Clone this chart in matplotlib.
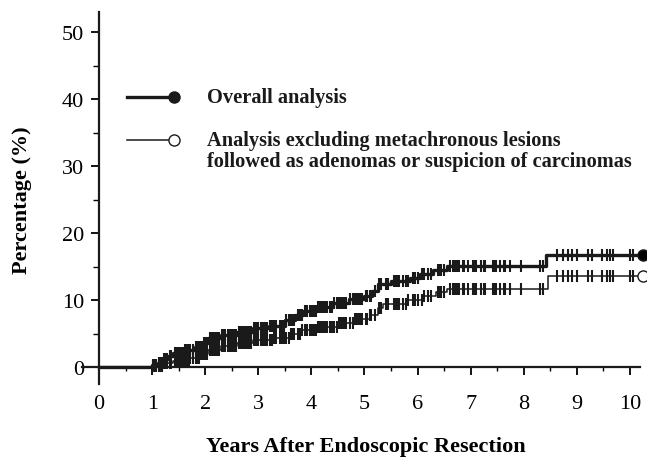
import numpy as np
import matplotlib.pyplot as plt
from matplotlib.ticker import MultipleLocator

plt.rcParams['font.family'] = ['Liberation Serif', 'DejaVu Serif']

# cumulative incidence, step points (years, %)
overall_t = [0, 1.0, 1.1, 1.2, 1.3, 1.4, 1.6, 1.8, 1.95, 2.05, 2.3, 2.6, 2.9, 3.2, 3.5, 3.7,
             3.85, 4.1, 4.4, 4.7, 5.0, 5.15, 5.25, 5.5, 5.85, 6.05, 6.3, 6.55, 8.42]
overall_y = [0, 0.3, 0.7, 1.2, 1.7, 2.2, 2.6, 3.0, 3.6, 4.3, 4.8, 5.3, 5.8, 6.2, 7.0, 7.8,
             8.4, 9.0, 9.6, 10.2, 10.6, 11.3, 12.4, 12.9, 13.3, 13.9, 14.5, 15.1, 16.8]

excl_t = [0, 1.0, 1.2, 1.4, 1.7, 1.9, 2.05, 2.3, 2.6, 2.9, 3.3, 3.6, 3.8, 4.1, 4.5, 4.8,
          5.1, 5.25, 5.35, 5.8, 6.1, 6.35, 6.55, 8.45]
excl_y = [0, 0.2, 0.6, 1.0, 1.4, 2.0, 2.6, 3.2, 3.6, 4.0, 4.4, 5.0, 5.6, 6.0, 6.6, 7.2,
          7.8, 8.8, 9.5, 10.0, 10.6, 11.2, 11.7, 13.6]

t_end = 10.24

# censored observations (years)
censor = [1.02, 1.05, 1.08, 1.12, 1.15, 1.18, 1.22, 1.25, 1.28, 1.33, 1.36, 1.42, 1.45, 1.48,
          1.52, 1.55, 1.58, 1.62, 1.66, 1.69, 1.72, 1.76, 1.82, 1.85, 1.88, 1.9, 1.93, 1.98,
          2.0, 2.03, 2.08, 2.1, 2.13, 2.16, 2.19, 2.22, 2.26, 2.32, 2.35, 2.38, 2.42, 2.46,
          2.5, 2.55, 2.58, 2.63, 2.68, 2.72, 2.75, 2.78, 2.82, 2.86, 2.92, 2.95, 3.0, 3.05,
          3.08, 3.12, 3.16, 3.22, 3.25, 3.3, 3.34, 3.4, 3.45, 3.48, 3.53, 3.58, 3.62, 3.65,
          3.68, 3.74, 3.78, 3.82, 3.88, 3.92, 3.98, 4.02, 4.05, 4.08, 4.12, 4.15, 4.18, 4.22,
          4.26, 4.3, 4.35, 4.38, 4.42, 4.48, 4.52, 4.55, 4.6, 4.62, 4.66, 4.72, 4.78, 4.82,
          4.85, 4.9, 4.92, 4.96, 5.02, 5.05, 5.1, 5.13, 5.2, 5.28, 5.32, 5.4, 5.45, 5.55,
          5.58, 5.62, 5.65, 5.72, 5.78, 5.82, 5.92, 5.96, 6.0, 6.08, 6.12, 6.2, 6.25, 6.38,
          6.42, 6.45, 6.5, 6.62, 6.66, 6.68, 6.72, 6.75, 6.78, 6.85, 6.88, 6.95, 7.05, 7.08,
          7.1, 7.2, 7.25, 7.28, 7.42, 7.45, 7.48, 7.55, 7.62, 7.65, 7.75, 7.95, 8.3, 8.36,
          8.62, 8.74, 8.83, 8.91, 9.0, 9.21, 9.28, 9.47, 9.57, 9.62, 9.68, 10.0, 10.06]


def step_value(ts, ys, x):
    idx = np.searchsorted(ts, x, side='right') - 1
    return np.array(ys)[idx]


fig = plt.figure(figsize=(6.47, 4.60), dpi=100)
ax = fig.add_axes([0.127, 0.163, 0.862, 0.809])

for ts, ys, lw, mfc in [(overall_t, overall_y, 2.4, 'black'), (excl_t, excl_y, 1.1, 'white')]:
    tt = np.append(ts, t_end)
    yy = np.append(ys, ys[-1])
    ax.step(tt, yy, where='post', color='#1a1a1a', lw=lw, clip_on=False, zorder=3)
    ax.plot(censor, step_value(ts, ys, censor), ls='none', marker='|', ms=8,
            mew=1.5, color='#1a1a1a', zorder=3)
    ax.plot([t_end], [ys[-1]], ls='none', marker='o', ms=8, mfc=mfc,
            mec='#1a1a1a', mew=1.0, clip_on=False, zorder=4)

ax.set_xlim(-0.32, 10.19)
ax.set_ylim(-2.5, 53)
ax.spines['left'].set_position(('data', 0))
ax.spines['bottom'].set_position(('data', 0))
ax.spines['right'].set_visible(False)
ax.spines['top'].set_visible(False)
for s in ['left', 'bottom']:
    ax.spines[s].set_linewidth(1.6)
    ax.spines[s].set_color('#1a1a1a')

ax.set_xticks(range(0, 11))
ax.set_yticks(range(0, 51, 10))
ax.xaxis.set_minor_locator(MultipleLocator(0.5))
ax.yaxis.set_minor_locator(MultipleLocator(5))
ax.tick_params(axis='x', which='major', length=6, width=1.3, pad=13, labelsize=16)
ax.tick_params(axis='x', which='minor', length=3, width=1.0)
ax.tick_params(axis='y', which='major', length=6, width=1.3, pad=5, labelsize=16)
ax.tick_params(axis='y', which='minor', length=4, width=1.0)

fig.text(0.565, 0.028, 'Years After Endoscopic Resection', ha='center', va='center',
         fontsize=16, fontweight='bold')
fig.text(0.034, 0.565, 'Percentage (%)', ha='center', va='center', rotation=90,
         fontsize=16, fontweight='bold')

# legend
ax.plot([0.081, 0.165], [0.77, 0.77], transform=ax.transAxes, color='#1a1a1a', lw=2.4)
ax.plot([0.165], [0.77], transform=ax.transAxes, marker='o', ms=8, color='#1a1a1a')
ax.plot([0.081, 0.165], [0.655, 0.655], transform=ax.transAxes, color='#1a1a1a', lw=1.1)
ax.plot([0.165], [0.655], transform=ax.transAxes, marker='o', ms=8, mfc='white',
        mec='#1a1a1a', mew=1.0)
ax.text(0.224, 0.77, 'Overall analysis', transform=ax.transAxes, va='center',
        fontsize=14.7, fontweight='bold', color='#1a1a1a')
ax.text(0.224, 0.655, 'Analysis excluding metachronous lesions', transform=ax.transAxes,
        va='center', fontsize=14.7, fontweight='bold', color='#1a1a1a')
ax.text(0.224, 0.6, 'followed as adenomas or suspicion of carcinomas',
        transform=ax.transAxes, va='center', fontsize=14.7, fontweight='bold',
        color='#1a1a1a')

fig.savefig('out.png', dpi=100)
